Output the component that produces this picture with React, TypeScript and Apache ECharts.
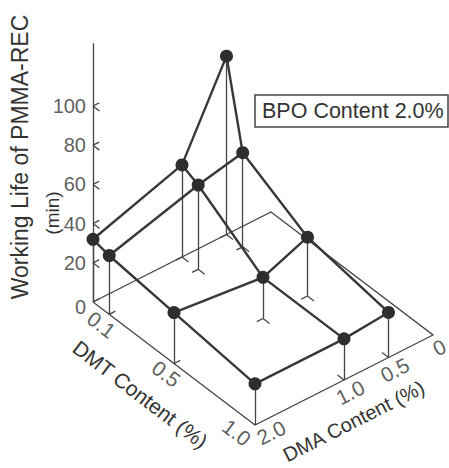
import React, { useEffect, useRef } from "react";
import * as echarts from "echarts";

// ---- data ----
const dmtLevels = [0, 0.1, 0.5, 1.0];
const dmaLevels = [2.0, 1.0, 0.5];
// working life (min): rows = DMT level, columns = DMA level
const workingLife = [
  [32, 47, 91],
  [30, 43, 48],
  [26, 21, 30],
  [21, 21, 23],
];
const zTicks = [0, 20, 40, 60, 80, 100];
const dmtTicks = [0.1, 0.5, 1.0];
const dmaTicks = [2.0, 1.0, 0.5, 0];
const zTitle = "Working Life of PMMA-REC";
const zUnit = "(min)";
const dmtTitle = "DMT Content (%)";
const dmaTitle = "DMA Content (%)";
const legendText = "BPO Content 2.0%";

// ---- projection (layout) ----
const W = 449;
const H = 468;
const ORIGIN = [93, 302];
const DMT_VEC = [162, 123];
const DMA_VEC = [-89, 45];
const DMA_REF = 2.0;
const Z_PX = 1.96;
const Z_TOP = 132;
const FONT = "'Liberation Sans', Arial, sans-serif";
const INK = "#333";

function proj(dmt: number, dma: number, z: number): [number, number] {
  const u = DMT_VEC[0] * dmt + DMA_VEC[0] * (dma - DMA_REF);
  const v = -(DMT_VEC[1] * dmt + DMA_VEC[1] * (dma - DMA_REF)) + Z_PX * z;
  return [u, v];
}

function unit(x: number, y: number): [number, number] {
  const l = Math.hypot(x, y);
  return [x / l, y / l];
}

export default function App() {
  const ref = useRef<HTMLDivElement>(null);
  useEffect(() => {
    if (!ref.current) return;
    const chart = echarts.init(ref.current, null, { renderer: "svg" });

    const dmtMin = Math.min(...dmtLevels);
    const dmtMax = Math.max(...dmtTicks);
    const dmaMax = Math.max(...dmaTicks);
    const dmaMin = Math.min(...dmaTicks);

    // thick wireframe
    const wires: any[] = [];
    dmtLevels.forEach((dmt, i) => {
      wires.push({ coords: dmaLevels.map((dma, j) => proj(dmt, dma, workingLife[i][j])) });
    });
    dmaLevels.forEach((dma, j) => {
      wires.push({ coords: dmtLevels.map((dmt, i) => proj(dmt, dma, workingLife[i][j])) });
    });

    // thin segments: drops, feet, z chevrons
    const thin: any[] = [];
    const dots: any[] = [];
    dmtLevels.forEach((dmt, i) => {
      dmaLevels.forEach((dma, j) => {
        const z = workingLife[i][j];
        dots.push(proj(dmt, dma, z));
        thin.push({ coords: [proj(dmt, dma, z), proj(dmt, dma, 0)] });
        const onDmtAxis = dma === dmaMax;
        const onDmaAxis = dmt === dmtMax;
        const f = proj(dmt, dma, 0);
        if (onDmtAxis && onDmaAxis) return;
        if (onDmtAxis) {
          thin.push({ coords: [f, proj(dmt, dma - 0.07, 0)] });
        } else if (onDmaAxis) {
          thin.push({ coords: [f, proj(dmt - 0.04, dma, 0)] });
        } else {
          thin.push({ coords: [f, proj(dmt, dma + 0.07, 0)] });
          thin.push({ coords: [f, proj(dmt + 0.04, dma, 0)] });
        }
      });
    });
    zTicks.forEach((z) => {
      if (z === 0) return;
      const p = proj(dmtMin, dmaMax, z);
      thin.push({ coords: [p, proj(dmtMin + 0.04, dmaMax, z)] });
      thin.push({ coords: [p, proj(dmtMin, dmaMax - 0.07, z)] });
    });
    // z axis
    thin.push({ coords: [proj(dmtMin, dmaMax, 0), proj(dmtMin, dmaMax, Z_TOP)] });

    const floor = [
      {
        coords: [
          proj(dmtMin, dmaMax, 0),
          proj(dmtMax, dmaMax, 0),
          proj(dmtMax, dmaMin, 0),
          proj(dmtMin, dmaMin, 0),
          proj(dmtMin, dmaMax, 0),
        ],
      },
    ];

    // labels
    const zLabels = zTicks.map((z) => {
      const p = proj(dmtMin, dmaMax, z);
      return { value: [p[0], p[1] - (z === 0 ? 5 : 0)], name: String(z) };
    });

    // outward normal of DMT axis (down-left on screen), in (u,v)
    const dmtN = unit(-DMT_VEC[1], -DMT_VEC[0]);
    const dmtAlong = unit(DMT_VEC[0], -DMT_VEC[1]);
    const dmtAngle = -Math.atan2(DMT_VEC[1], DMT_VEC[0]) * 180 / Math.PI;
    const dmtLabelData = dmtTicks.map((t) => {
      const p = proj(t, dmaMax, 0);
      const last = t === dmtMax;
      const off = last ? 17 : 13;
      const shift = last ? -10 : 0;
      return {
        value: [p[0] + dmtN[0] * off + dmtAlong[0] * shift, p[1] + dmtN[1] * off + dmtAlong[1] * shift],
        name: t.toFixed(1),
      };
    });

    // outward normal of DMA axis (down-right on screen), in (u,v)
    const dmaN = unit(DMA_VEC[1], DMA_VEC[0]);
    // direction toward smaller DMA (up-right on screen), in (u,v)
    const dmaAlong = unit(-DMA_VEC[0], DMA_VEC[1]);
    const dmaAngle = Math.atan2(DMA_VEC[1], -DMA_VEC[0]) * 180 / Math.PI;
    const dmaLabelData = dmaTicks.map((t) => {
      const p = proj(dmtMax, t, 0);
      const off = 14;
      const shift = t === dmaMax ? 11 : 0;
      return {
        value: [p[0] + dmaN[0] * off + dmaAlong[0] * shift, p[1] + dmaN[1] * off + dmaAlong[1] * shift],
        name: t === 0 ? "0" : t.toFixed(1),
      };
    });

    const toScreen = (p: [number, number]) => [ORIGIN[0] + p[0], ORIGIN[1] - p[1]];
    const dmtMid = proj((dmtMin + dmtMax) / 2 - 0.04, dmaMax, 0);
    const dmtTitlePos = toScreen([dmtMid[0] + dmtN[0] * 45, dmtMid[1] + dmtN[1] * 45]);
    const dmaMid = proj(dmtMax, (dmaMin + dmaMax) / 2 + 0.1, 0);
    const dmaTitlePos = toScreen([dmaMid[0] + dmaN[0] * 41, dmaMid[1] + dmaN[1] * 41]);

    const labelSeries = (data: any[], label: any) => ({
      type: "scatter",
      symbolSize: 0,
      silent: true,
      z: 5,
      data,
      label: {
        show: true,
        formatter: "{b}",
        color: INK,
        fontFamily: FONT,
        ...label,
      },
    });

    chart.setOption({
      animation: false,
      grid: { left: 0, right: 0, top: 0, bottom: 0 },
      xAxis: { type: "value", min: -ORIGIN[0], max: W - ORIGIN[0], show: false },
      yAxis: { type: "value", min: ORIGIN[1] - H, max: ORIGIN[1], show: false },
      series: [
        {
          type: "lines",
          coordinateSystem: "cartesian2d",
          polyline: true,
          silent: true,
          z: 1,
          lineStyle: { color: "#444", width: 1.3, opacity: 1 },
          data: floor,
        },
        {
          type: "lines",
          coordinateSystem: "cartesian2d",
          silent: true,
          z: 1,
          lineStyle: { color: "#444", width: 1.3, opacity: 1 },
          data: thin,
        },
        {
          type: "lines",
          coordinateSystem: "cartesian2d",
          polyline: true,
          silent: true,
          z: 2,
          lineStyle: { color: "#383838", width: 2.4, opacity: 1 },
          data: wires,
        },
        {
          type: "scatter",
          silent: true,
          z: 3,
          symbol: "circle",
          symbolSize: 13,
          itemStyle: { color: "#2e2e2e", opacity: 1 },
          data: dots,
        },
        labelSeries(zLabels, { position: "left", distance: 7, fontSize: 20 }),
        labelSeries(dmtLabelData, {
          position: "inside",
          align: "center",
          verticalAlign: "middle",
          rotate: dmtAngle,
          fontSize: 21,
        }),
        labelSeries(dmaLabelData, {
          position: "inside",
          align: "center",
          verticalAlign: "middle",
          rotate: dmaAngle,
          fontSize: 21,
        }),
      ],
      graphic: [
        {
          type: "text",
          x: 20,
          y: 157,
          rotation: Math.PI / 2,
          style: { text: zTitle, font: `23px ${FONT}`, fill: INK, align: "center", verticalAlign: "middle" },
        },
        {
          type: "text",
          x: 52,
          y: 213,
          rotation: Math.PI / 2,
          style: { text: zUnit, font: `19px ${FONT}`, fill: INK, align: "center", verticalAlign: "middle" },
        },
        {
          type: "text",
          x: dmtTitlePos[0],
          y: dmtTitlePos[1],
          rotation: (dmtAngle * Math.PI) / 180,
          style: { text: dmtTitle, font: `21px ${FONT}`, fill: INK, align: "center", verticalAlign: "middle" },
        },
        {
          type: "text",
          x: dmaTitlePos[0],
          y: dmaTitlePos[1],
          rotation: (dmaAngle * Math.PI) / 180,
          style: { text: dmaTitle, font: `20px ${FONT}`, fill: INK, align: "center", verticalAlign: "middle" },
        },
        {
          type: "rect",
          shape: { x: 255, y: 95, width: 193, height: 32 },
          style: { fill: "transparent", stroke: "#444", lineWidth: 1.5 },
        },
        {
          type: "text",
          x: 262,
          y: 111,
          style: { text: legendText, font: `21.5px ${FONT}`, fill: INK, align: "left", verticalAlign: "middle" },
        },
      ],
    });
    return () => chart.dispose();
  }, []);
  return (
    <div
      ref={ref}
      style={{ position: "fixed", left: 0, top: 0, width: W, height: H, background: "#fff" }}
    />
  );
}
